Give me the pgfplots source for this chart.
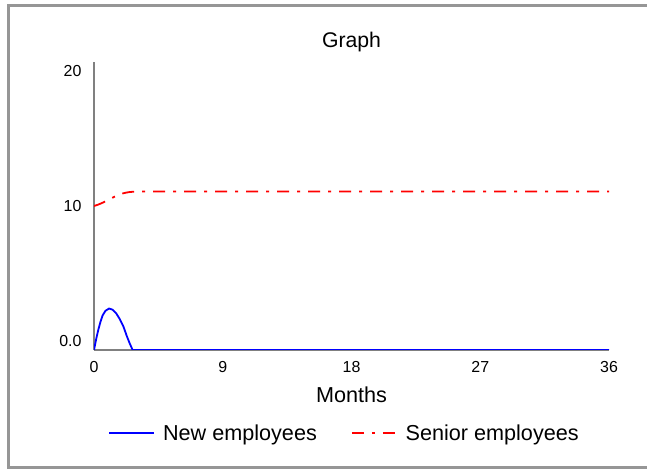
\documentclass[border=0pt]{standalone}
\usepackage{fontspec}
\setmainfont{Liberation Sans}
\usepackage{pgfplots}
\pgfplotsset{compat=1.18}
\definecolor{framegray}{RGB}{150,150,150}
\definecolor{axgray}{RGB}{128,128,128}
\begin{document}
\begin{tikzpicture}[x=1bp,y=1bp]
\useasboundingbox (0,0) rectangle (647,471);
\draw[line width=3bp, framegray] (647,465.5) -- (8.5,465.5) -- (8.5,3) -- (647,3);
\begin{axis}[
  at={(94bp,121bp)}, anchor=south west,
  scale only axis, width=515bp, height=288bp,
  xmin=0, xmax=36, ymin=0, ymax=20,
  axis x line=bottom, axis y line=left,
  axis line style={-, axgray, line width=1.5bp},
  xtick={0,9,18,27,36}, ytick={0,10,20},
  yticklabels={\raisebox{9bp}{0.0},10,\raisebox{-8.5bp}{20}},
  major tick length=0pt,
  /pgf/number format/assume math mode=true,
  tick label style={font=\fontsize{16}{19}\selectfont, text=black},
  xticklabel style={anchor=base, yshift=-23bp},
  yticklabel style={anchor=base east, yshift=-5.7bp, xshift=-9bp},
  xlabel={Months},
  xlabel style={at={(axis description cs:0.5,0)}, anchor=base, yshift=-53bp, font=\fontsize{21.7}{26}\selectfont},
  title={Graph},
  every axis title shift=0pt,
  title style={at={(axis description cs:0.5,1)}, anchor=base, yshift=14bp, font=\fontsize{21.3}{26}\selectfont},
  legend columns=2,
  legend style={at={(axis description cs:0.4864,0)}, anchor=center, yshift=-83bp,
    draw=none, fill=none, font=\fontsize{21.7}{26}\selectfont,
    /tikz/every odd column/.append style={column sep=6bp},
    /tikz/every even column/.append style={column sep=32bp}},
  legend image code/.code={\draw[#1] (0bp,0bp) -- (45bp,0bp);},
]
\addplot[blue, line width=1.8bp] coordinates {
 (0,0) (0.15,0.75) (0.3,1.4) (0.45,1.95) (0.6,2.4) (0.8,2.72) (1.05,2.88) (1.3,2.8) (1.55,2.55) (1.8,2.15) (2.05,1.65) (2.3,0.95) (2.5,0.45) (2.7,0) (36,0)
};
\addlegendentry{New employees}
\addplot[red, line width=1.8bp, dash pattern=on 12bp off 8bp on 3bp off 8bp] coordinates {
 (0,10) (0.25,10.08) (0.5,10.18) (0.75,10.3) (1,10.42) (1.25,10.55) (1.5,10.68) (1.75,10.78) (2,10.87) (2.25,10.93) (2.5,10.97) (2.75,10.99) (3,11) (36,11)
};
\addlegendentry{Senior employees}
\end{axis}
\end{tikzpicture}
\end{document}
